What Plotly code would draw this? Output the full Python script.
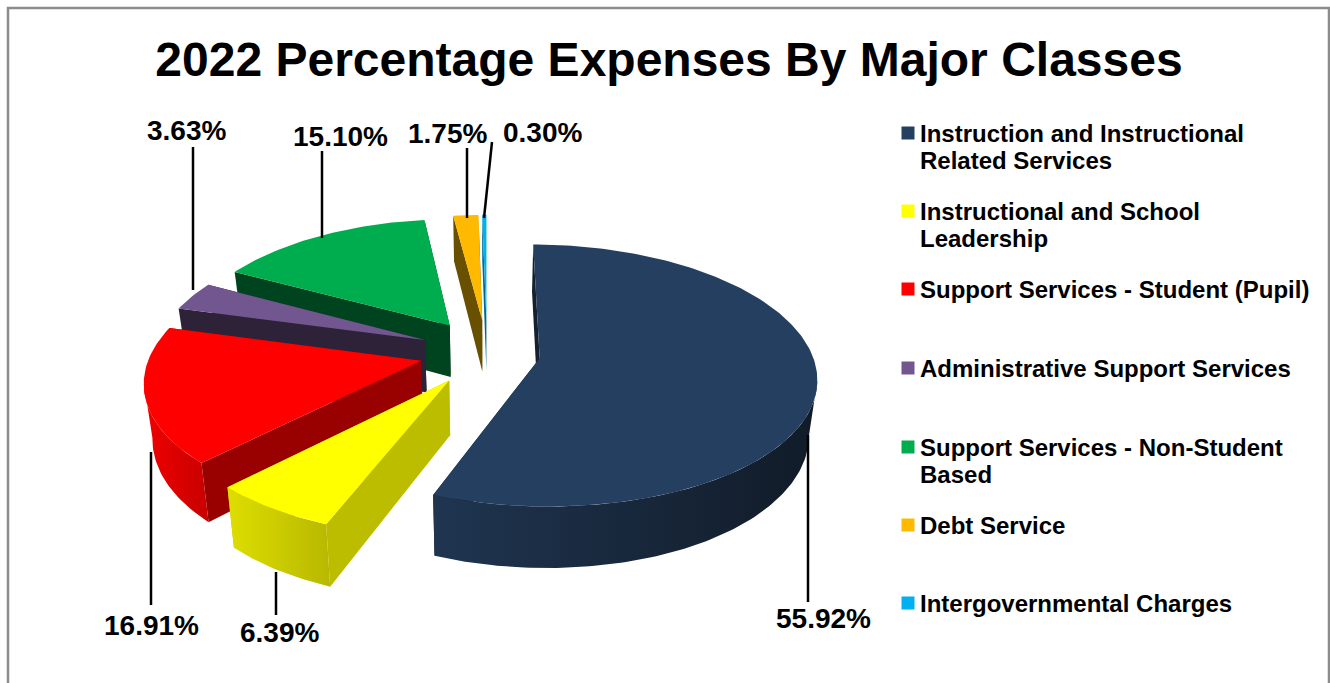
import numpy as np
import plotly.graph_objects as go

title = "2022 Percentage Expenses By Major Classes"
categories = [["Instruction and Instructional", "Related Services"],
              ["Instructional and School", "Leadership"],
              ["Support Services - Student (Pupil)"],
              ["Administrative Support Services"],
              ["Support Services - Non-Student", "Based"],
              ["Debt Service"],
              ["Intergovernmental Charges"]]
values = [55.92, 6.39, 16.91, 3.63, 15.10, 1.75, 0.30]
top_colors = ["#243F60", "#FFFF00", "#FF0000", "#72568F", "#00AD4E", "#FFB900", "#00B0F0"]
radial_colors = ["#141F30", "#BDBD00", "#990000", "#2D2238", "#00441F", "#695000", "#00698F"]
wall_gradients = [("#1F3550", "#111B28"), ("#DEDE00", "#B8B800"), ("#F00000", "#C80000"),
                  ("#2D2238", "#2D2238"), ("#00441F", "#00441F"), ("#695000", "#695000"), ("#00698F", "#00698F")]
draw_order = [6, 5, 4, 3, 2, 1, 0]

label_pos = [(823, 618), (279, 632), (151, 625), (186, 130), (340, 136), (447, 133), (542, 132)]
leader_lines = [((808, 435), (808, 602)), ((276, 572), (276, 615)), ((151, 452), (151, 605)),
                ((193, 290), (193, 147)), ((322, 238), (322, 151)), ((467, 218), (467, 148)), ((484, 218), (492, 142))]
legend_rows = [133, 211, 289, 368, 447, 525, 603]
LEGEND_MARK_X, LEGEND_TEXT_X, LEGEND_LINE = 908, 918, 27

CX, CY, RX, RY = 487, 352, 276, 127
PERSP_Y, PERSP_X, EXPLODE_R, EXPLODE_L, EXPLODE_Y, DEPTH = 0.132, 0.14, 0.193, 0.245, 0.26, 53
ARC_LEFT, ARC_RIGHT, BOTTOM_X = 0.98, 0.985, 0.975


def project(a, r, offx, offy, drop=False):
    """Disc point at clockwise angle a (radians from 12 o'clock), x radius r, exploded by offset."""
    X = r * np.sin(a) + offx
    Y = (np.cos(a) if r else 0) + offy
    s = 1 / (1 + PERSP_Y * Y)
    sx = 1 / (1 + PERSP_X * Y) * (BOTTOM_X if drop else 1)
    return CX + RX * X * sx, CY - RY * Y * s + (DEPTH * s if drop else 0)


fig = go.Figure()
edges = np.cumsum([0] + values) / sum(values) * 2 * np.pi
for i in draw_order:
    a0, a1 = edges[i], edges[i + 1]
    mid = (a0 + a1) / 2
    left = mid > np.pi
    ox = (EXPLODE_L if left else EXPLODE_R) * np.sin(mid)
    oy = EXPLODE_Y * np.cos(mid)
    r = ARC_LEFT if left else ARC_RIGHT
    arc = np.linspace(a0, a1, max(4, int(np.degrees(a1 - a0))))
    tx, ty = project(arc, r, ox, oy)
    bx, by = project(arc, r, ox, oy, True)
    vx, vy = project(0, 0, ox, oy)
    vbx, vby = project(0, 0, ox, oy, True)
    common = dict(mode="lines", line=dict(width=0), fill="toself", hoverinfo="skip", showlegend=False)
    # radial faces
    for k in (-1, 0):
        fig.add_trace(go.Scatter(x=[vx, tx[k], bx[k], vbx, vx], y=[vy, ty[k], by[k], vby, vy],
                                 fillcolor=radial_colors[i], **common))
    # outer wall: only the part of the rim in front of the silhouette point
    seen = slice(int(np.argmin(tx)) + 1) if left else slice(int(np.argmax(tx)), None)
    wx, wy, ux, uy = tx[seen], ty[seen], bx[seen], by[seen]
    if len(wx) > 1:
        c1, c2 = wall_gradients[i]
        fig.add_trace(go.Scatter(x=np.r_[wx, ux[::-1], wx[0]], y=np.r_[wy, uy[::-1], wy[0]],
                                 fillgradient=dict(type="horizontal", colorscale=[[0, c1], [1, c2]]),
                                 **common))
    # top face
    fig.add_trace(go.Scatter(x=np.r_[vx, tx, vx], y=np.r_[vy, ty, vy], fillcolor=top_colors[i], **common))

# legend: square keys and one text line per row
fig.add_trace(go.Scatter(x=[LEGEND_MARK_X] * len(legend_rows), y=legend_rows, mode="markers", showlegend=False,
                         hoverinfo="skip", marker=dict(symbol="square", size=13, color=top_colors)))
for lines, y in zip(categories, legend_rows):
    for n, line in enumerate(lines):
        fig.add_annotation(x=LEGEND_TEXT_X, y=y + n * LEGEND_LINE, text=f"<b>{line}</b>", showarrow=False,
                           xanchor="left", yanchor="middle",
                           font=dict(family="Liberation Sans", size=24, color="#000000"))

for v, (x, y) in zip(values, label_pos):
    fig.add_annotation(x=x, y=y, text=f"<b>{v:.2f}%</b>", showarrow=False,
                       font=dict(family="Liberation Sans", size=28, color="#000000"))
for (p, q) in leader_lines:
    fig.add_shape(type="line", x0=p[0], y0=p[1], x1=q[0], y1=q[1], line=dict(color="#000000", width=2.5))
fig.add_shape(type="rect", x0=8, y0=8, x1=1329, y1=720, line=dict(color="#8C8C8C", width=2.5))

fig.update_layout(
    width=1330, height=683, margin=dict(l=0, r=0, t=0, b=0),
    paper_bgcolor="white", plot_bgcolor="white", showlegend=False,
    title=dict(text=f"<b>{title}</b>", x=0.503, xanchor="center", y=0.913, yanchor="middle",
               font=dict(family="Liberation Sans", size=48, color="#000000")),
    xaxis=dict(range=[0, 1330], visible=False, fixedrange=True),
    yaxis=dict(range=[683, 0], visible=False, fixedrange=True),
)
fig.write_html("out.html", config=dict(displayModeBar=False),
               post_script="document.body.style.margin='0';document.body.style.overflow='hidden';")
